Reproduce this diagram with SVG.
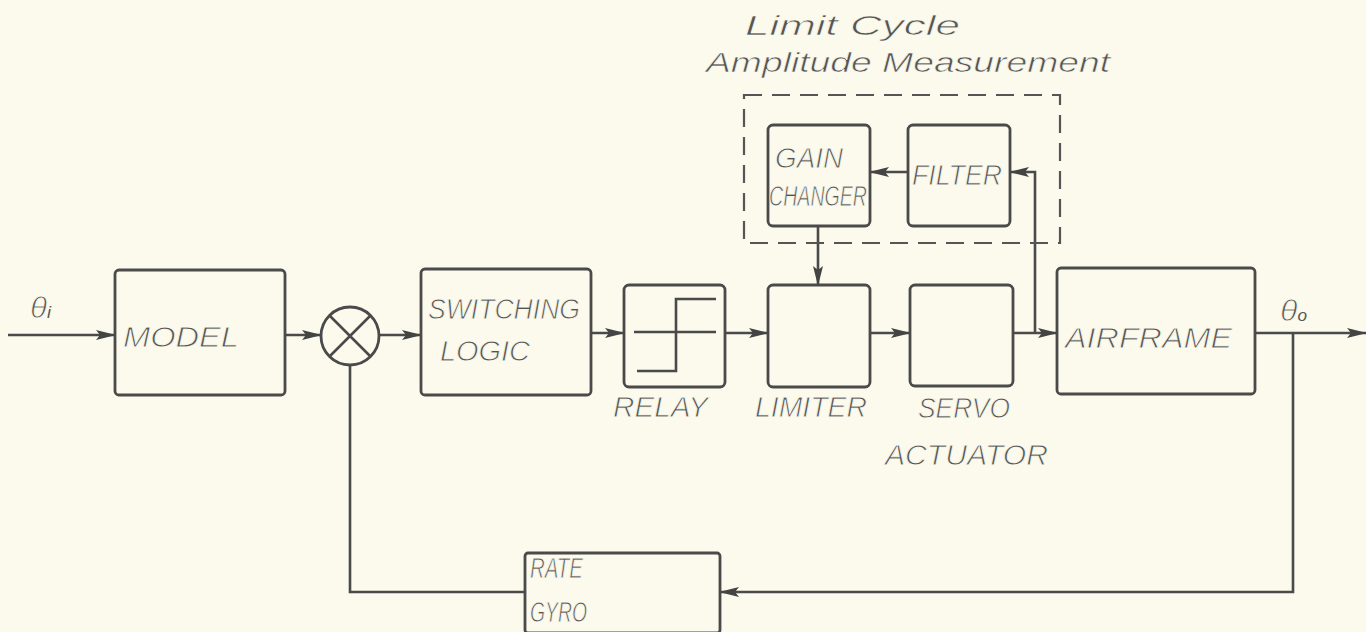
<svg xmlns="http://www.w3.org/2000/svg" width="1366" height="632" viewBox="0 0 1366 632">
<defs>
<marker id="ah" viewBox="0 0 20 12" refX="19" refY="6" markerWidth="20" markerHeight="12" markerUnits="userSpaceOnUse" orient="auto">
<path d="M0,1 L20,6 L0,11 L4,6 Z" fill="#444"/>
</marker>
</defs>
<style>
.bg{fill:#fbfaec}
.box{fill:none;stroke:#4a4a4a;stroke-width:2.8}
.ln{fill:none;stroke:#4a4a4a;stroke-width:2.6}
.dash{fill:none;stroke:#555;stroke-width:2.2;stroke-dasharray:18 10}
.t{font-family:"Liberation Sans",Arial,sans-serif;font-style:italic;fill:#555;font-size:30px;stroke:#fbfaec;stroke-width:0.9}
.h{font-family:"Liberation Sans",Arial,sans-serif;font-style:italic;fill:#555;font-size:27px;stroke:#fbfaec;stroke-width:0.6}
.sub{stroke:none}
</style>
<rect class="bg" x="0" y="0" width="1366" height="632"/>

<g id="connectors">
<path class="ln" d="M8,335 L115,335" marker-end="url(#ah)"/>
<path class="ln" d="M285,335 L321,335" marker-end="url(#ah)"/>
<path class="ln" d="M379,335 L421,335" marker-end="url(#ah)"/>
<path class="ln" d="M591,333 L624,333" marker-end="url(#ah)"/>
<path class="ln" d="M725,333 L768,333" marker-end="url(#ah)"/>
<path class="ln" d="M870,333 L910,333" marker-end="url(#ah)"/>
<path class="ln" d="M1013,333 L1057,333" marker-end="url(#ah)"/>
<path class="ln" d="M1035,333 L1035,172 L1010,172" marker-end="url(#ah)"/>
<path class="ln" d="M908,172 L870,172" marker-end="url(#ah)"/>
<path class="ln" d="M818,226 L818,285" marker-end="url(#ah)"/>
<path class="ln" d="M1255,333 L1366,333" marker-end="url(#ah)"/>
<path class="ln" d="M1293,333 L1293,592 L720,592" marker-end="url(#ah)"/>
<path class="ln" d="M525,592 L350,592 L350,365"/>
</g>

<g id="input-label"><text class="t" x="30" y="318" font-size="24" textLength="21" lengthAdjust="spacingAndGlyphs">θ<tspan class="sub" font-size="17">i</tspan></text></g>

<g id="model">
<rect class="box" x="115" y="270" width="170" height="125" rx="4"/>
<text class="t" x="123" y="347" textLength="116" lengthAdjust="spacingAndGlyphs">MODEL</text>
</g>

<g id="sum">
<circle class="box" cx="350" cy="336" r="29"/>
<path class="ln" d="M329.5,315.5 L370.5,356.5 M370.5,315.5 L329.5,356.5"/>
</g>

<g id="switching-logic">
<rect class="box" x="421" y="269" width="170" height="126" rx="4"/>
<text class="t" x="428" y="319" textLength="152" lengthAdjust="spacingAndGlyphs">SWITCHING</text>
<text class="t" x="440" y="361" textLength="90" lengthAdjust="spacingAndGlyphs">LOGIC</text>
</g>

<g id="relay">
<rect class="box" x="624" y="285" width="101" height="102" rx="5"/>
<path class="ln" d="M634,332 L716,332 M637,371 L676,371 L676,299 L716,299"/>
<text class="t" x="613" y="417" font-size="32" textLength="95" lengthAdjust="spacingAndGlyphs">RELAY</text>
</g>

<g id="limiter">
<rect class="box" x="768" y="285" width="102" height="102" rx="5"/>
<text class="t" x="755" y="417" font-size="32" textLength="112" lengthAdjust="spacingAndGlyphs">LIMITER</text>
</g>

<g id="servo-actuator">
<rect class="box" x="910" y="285" width="103" height="101" rx="5"/>
<text class="t" x="918" y="418" font-size="32" textLength="92" lengthAdjust="spacingAndGlyphs">SERVO</text>
<text class="t" x="885" y="465" font-size="32" textLength="163" lengthAdjust="spacingAndGlyphs">ACTUATOR</text>
</g>

<g id="airframe">
<rect class="box" x="1057" y="268" width="198" height="126" rx="4"/>
<text class="t" x="1065" y="348" font-size="33" textLength="167" lengthAdjust="spacingAndGlyphs">AIRFRAME</text>
</g>

<g id="output-label"><text class="t" x="1280" y="321" font-size="24" textLength="27" lengthAdjust="spacingAndGlyphs">θ<tspan class="sub" font-size="16">o</tspan></text></g>

<g id="limit-cycle-group">
<rect class="dash" x="744" y="95" width="316" height="148"/>
<text class="h" x="745" y="35" textLength="215" lengthAdjust="spacingAndGlyphs">Limit  Cycle</text>
<text class="h" x="706" y="72" textLength="404" lengthAdjust="spacingAndGlyphs">Amplitude  Measurement</text>
</g>

<g id="gain-changer">
<rect class="box" x="768" y="125" width="102" height="101" rx="5"/>
<text class="t" x="775" y="168" font-size="28" textLength="68" lengthAdjust="spacingAndGlyphs">GAIN</text>
<text class="t" x="769" y="206" font-size="28" textLength="98" lengthAdjust="spacingAndGlyphs">CHANGER</text>
</g>

<g id="filter">
<rect class="box" x="908" y="125" width="102" height="101" rx="5"/>
<text class="t" x="912" y="185" font-size="29" textLength="90" lengthAdjust="spacingAndGlyphs">FILTER</text>
</g>

<g id="rate-gyro">
<rect class="box" x="525" y="553" width="195" height="80" rx="3"/>
<text class="t" x="530" y="578" font-size="28" textLength="53" lengthAdjust="spacingAndGlyphs">RATE</text>
<text class="t" x="530" y="622" font-size="28" textLength="57" lengthAdjust="spacingAndGlyphs">GYRO</text>
</g>
</svg>
